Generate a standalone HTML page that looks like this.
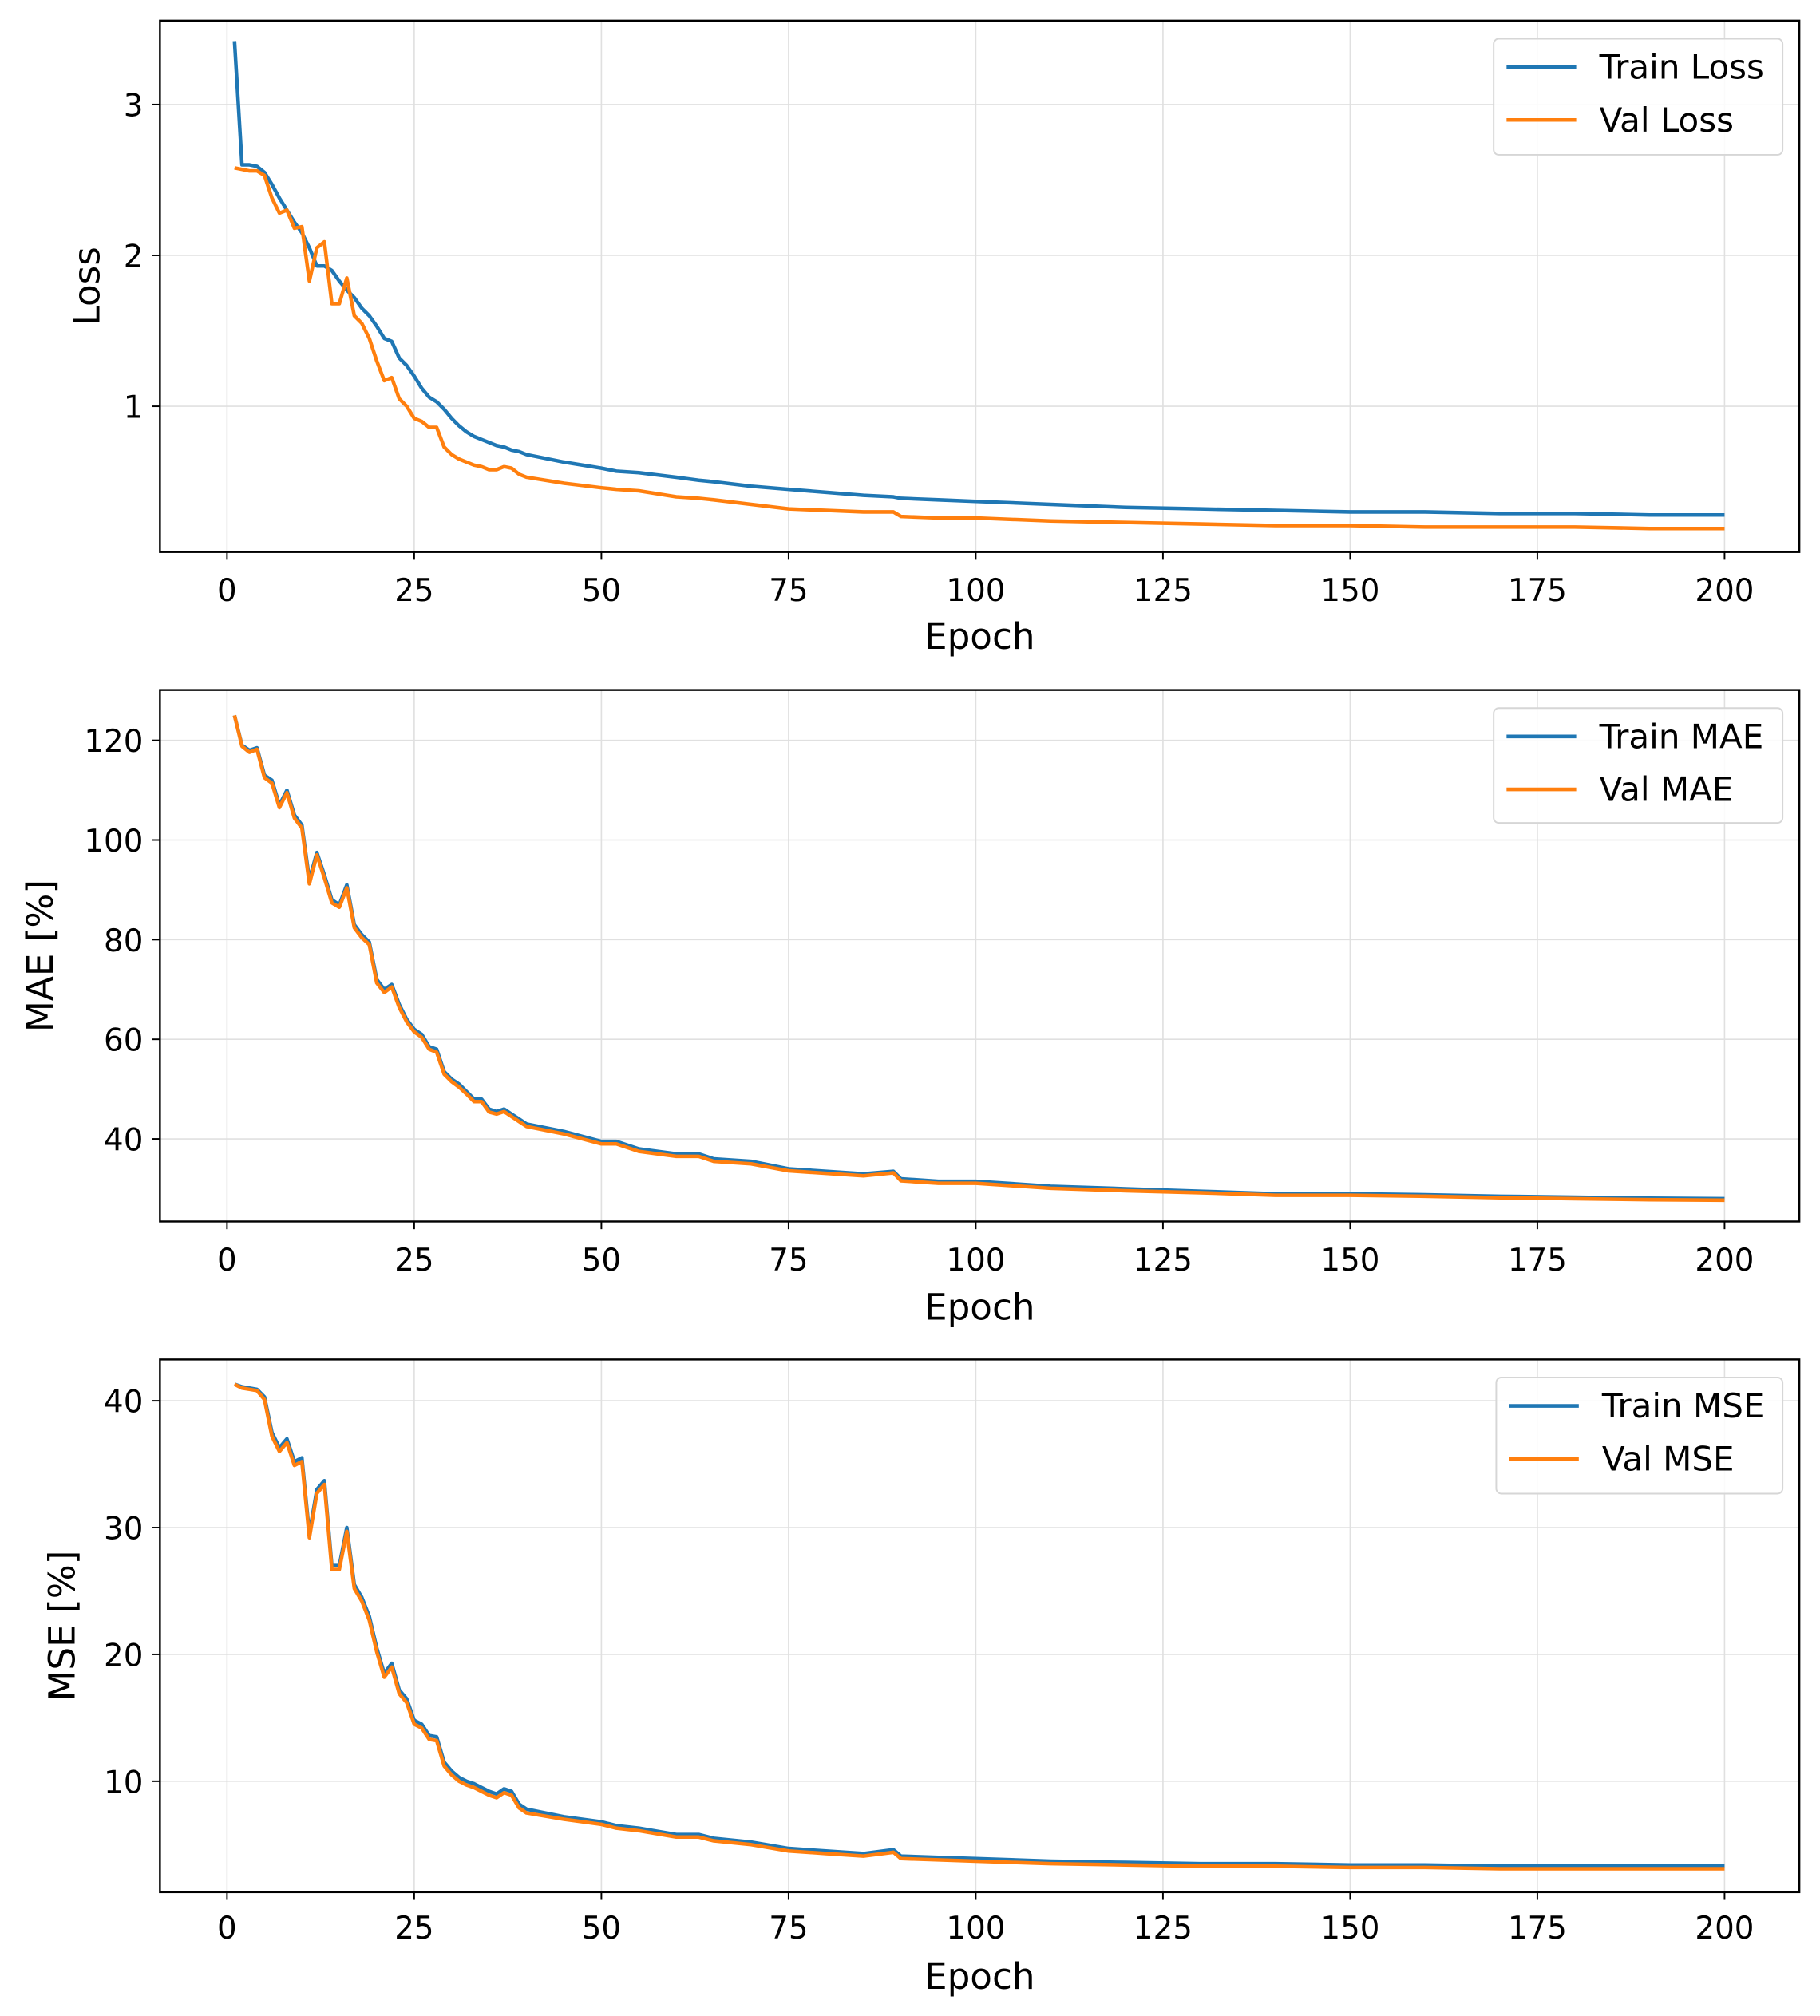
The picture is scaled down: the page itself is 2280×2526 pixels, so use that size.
<!DOCTYPE html>
<html><head><meta charset="utf-8"><style>
html,body{margin:0;padding:0;background:#fff}
svg{display:block}
text{font-family:"DejaVu Sans","Liberation Sans",sans-serif;fill:#000}
</style></head><body>
<svg id="chart" width="2280" height="2526" viewBox="0 0 1411 1563" preserveAspectRatio="none" xmlns="http://www.w3.org/2000/svg"></svg>
<script>
const epochs=[1,2,3,4,5,6,7,8,9,10,11,12,13,14,15,16,17,18,19,20,21,22,23,24,25,26,27,28,29,30,31,32,33,34,35,36,37,38,39,40,45,50,52,55,60,63,65,70,75,80,85,89,90,95,100,110,120,130,140,150,160,170,180,190,200];
const xTicks=[0,25,50,75,100,125,150,175,200];
const trainLoss=[3.42,2.6,2.6,2.59,2.55,2.47,2.38,2.3,2.22,2.15,2.05,1.93,1.93,1.9,1.83,1.77,1.72,1.65,1.6,1.53,1.45,1.43,1.32,1.27,1.2,1.12,1.06,1.03,0.98,0.92,0.87,0.83,0.8,0.78,0.76,0.74,0.73,0.71,0.7,0.68,0.63,0.59,0.57,0.56,0.53,0.51,0.5,0.47,0.45,0.43,0.41,0.4,0.39,0.38,0.37,0.35,0.33,0.32,0.31,0.3,0.3,0.29,0.29,0.28,0.28];
const valLoss=[2.58,2.57,2.56,2.56,2.53,2.38,2.28,2.3,2.18,2.19,1.83,2.05,2.09,1.68,1.68,1.85,1.6,1.55,1.45,1.3,1.17,1.19,1.05,1.0,0.92,0.9,0.86,0.86,0.73,0.68,0.65,0.63,0.61,0.6,0.58,0.58,0.6,0.59,0.55,0.53,0.49,0.46,0.45,0.44,0.4,0.39,0.38,0.35,0.32,0.31,0.3,0.3,0.27,0.26,0.26,0.24,0.23,0.22,0.21,0.21,0.2,0.2,0.2,0.19,0.19];
const trainMAE=[125,119,118,118.5,113,112,107,110,105,103,92,97.5,93,88,87,91,83,81,79.5,72,70,71,67,64,62,61,58.5,58,53.5,52,51,49.5,48,48,46,45.5,46,45,44,43,41.5,39.5,39.5,38,37,37,36,35.5,34,33.5,33,33.5,32,31.5,31.5,30.5,30,29.5,29,29,28.8,28.5,28.3,28.1,28];
const valMAE=[125,118.8,117.6,118.2,112.5,111.4,106.5,109.5,104.4,102.4,91.2,97,92.4,87.4,86.5,90.4,82.4,80.4,79,71.3,69.4,70.5,66.4,63.5,61.5,60.4,58,57.4,53,51.5,50.4,49,47.5,47.5,45.4,45,45.5,44.5,43.5,42.5,41,39,39,37.5,36.5,36.5,35.5,35,33.6,33.1,32.6,33.2,31.6,31.1,31.1,30.1,29.6,29.2,28.7,28.7,28.5,28.2,28,27.8,27.7];
const trainMSE=[41.3,41.1,41.0,40.9,40.3,37.5,36.3,37,35.2,35.5,29.5,33,33.7,27,27,30,25.5,24.5,23,20.5,18.5,19.3,17.2,16.5,14.8,14.5,13.6,13.5,11.5,10.8,10.3,10,9.8,9.5,9.2,9,9.4,9.2,8.2,7.8,7.2,6.8,6.5,6.3,5.8,5.8,5.5,5.2,4.7,4.5,4.3,4.6,4.1,4.0,3.9,3.7,3.6,3.5,3.5,3.4,3.4,3.3,3.3,3.3,3.3];
const valMSE=[41.3,41.0,40.9,40.8,40.1,37.2,36,36.7,34.9,35.2,29.2,32.7,33.4,26.7,26.7,29.7,25.2,24.2,22.7,20.2,18.2,19,16.9,16.2,14.5,14.2,13.3,13.2,11.2,10.5,10,9.7,9.5,9.2,8.9,8.7,9.1,8.9,7.9,7.5,7,6.6,6.3,6.1,5.6,5.6,5.3,5,4.5,4.3,4.1,4.4,3.9,3.8,3.7,3.5,3.4,3.3,3.3,3.2,3.2,3.1,3.1,3.1,3.1];
const lossTicks=[1,2,3];
const maeTicks=[40,60,80,100,120];
const mseTicks=[10,20,30,40];

const NS="http://www.w3.org/2000/svg";
const svg=document.getElementById('chart');
function mk(tag,attrs,parent){const e=document.createElementNS(NS,tag);for(const k in attrs)e.setAttribute(k,attrs[k]);(parent||svg).appendChild(e);return e;}
const L=124,R=1395;
const xs=v=>176+(v-0)*(1337-176)/200;
const panels=[
 {key:'loss',top:16,bot:428,ylab:'Loss',ylx:67,ticks:lossTicks,ys:v=>432-v*117,tr:trainLoss,va:valLoss,ln:['Train Loss','Val Loss'],lg:[1158,30,1382,120],tlY:457,elY:493},
 {key:'mae',top:535,bot:947,ylab:'MAE [%]',ylx:31,ticks:maeTicks,ys:v=>574+(120-v)*3.8625,tr:trainMAE,va:valMAE,ln:['Train MAE','Val MAE'],lg:[1158,549,1382,638],tlY:976,elY:1013},
 {key:'mse',top:1054,bot:1467,ylab:'MSE [%]',ylx:48,ticks:mseTicks,ys:v=>1086+(40-v)*9.833,tr:trainMSE,va:valMSE,ln:['Train MSE','Val MSE'],lg:[1160,1068,1382,1158],tlY:1494,elY:1532}
];
panels.forEach(p=>{
 const g=mk('g',{});
 
 
 xTicks.forEach(t=>{
  const gl=mk('line',{x1:xs(t),x2:xs(t),y1:p.top,y2:p.bot,stroke:'#e0e0e0','stroke-width':1},g);
  
  
  const tk=mk('line',{x1:xs(t),x2:xs(t),y1:p.bot,y2:p.bot+6,stroke:'#000','stroke-width':1.2},g);
  
  
  const tl=mk('text',{x:xs(t),y:p.tlY+9,'text-anchor':'middle','font-size':24},g);
  tl.textContent=t;
  
  
 });
 p.ticks.forEach(t=>{
  const y=p.ys(t);
  const gl=mk('line',{x1:L,x2:R,y1:y,y2:y,stroke:'#e0e0e0','stroke-width':1},g);
  
  
  const tk=mk('line',{x1:L-6,x2:L,y1:y,y2:y,stroke:'#000','stroke-width':1.2},g);
  
  
  const tl=mk('text',{x:L-13,y:y+9,'text-anchor':'end','font-size':24},g);
  tl.textContent=t;
  
  
 });
 [[p.tr,'#1f77b4','train'],[p.va,'#ff7f0e','val']].forEach(s=>{
  const d=epochs.map((e,i)=>(i?'L':'M')+xs(e).toFixed(2)+','+p.ys(s[0][i]).toFixed(2)).join('');
  const pl=mk('path',{d:d,fill:'none',stroke:s[1],'stroke-width':2.8,'stroke-linejoin':'round'},g);
  
  
 });
 const fr=mk('rect',{x:L,y:p.top,width:R-L,height:p.bot-p.top,fill:'none',stroke:'#000','stroke-width':1.5},g);
 
 
 const el=mk('text',{x:(L+R)/2,y:p.elY+10,'text-anchor':'middle','font-size':28},g);
 el.textContent='Epoch';
 
 
 const cy=(p.top+p.bot)/2;
 const yl=mk('text',{x:p.ylx+10,y:cy,'text-anchor':'middle','font-size':28,transform:'rotate(-90 '+(p.ylx+10)+' '+cy+')'},g);
 yl.textContent=p.ylab;
 
 
 const [a,b,c,d]=p.lg;
 const lg=mk('g',{},g);
 
 
 mk('rect',{x:a,y:b,width:c-a,height:d-b,rx:4,fill:'#fff','fill-opacity':0.85,stroke:'#d6d6d6','stroke-width':1.2},lg);
 [[p.ln[0],'#1f77b4',b+22],[p.ln[1],'#ff7f0e',b+63]].forEach(it=>{
  const ent=mk('g',{},lg);
  
  
  mk('line',{x1:a+10,x2:a+64,y1:it[2],y2:it[2],stroke:it[1],'stroke-width':2.8},ent);
  const t=mk('text',{x:a+82,y:it[2]+9,'font-size':26},ent);
  t.textContent=it[0];
 });
});
</script>
</body></html>
